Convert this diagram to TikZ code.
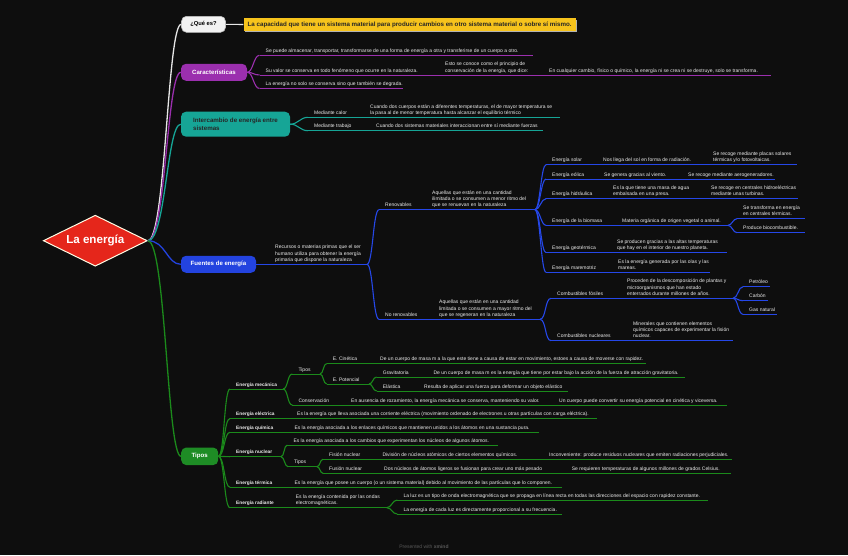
\documentclass[tikz,border=0pt]{standalone}
\usepackage{fontspec}
\setmainfont{Liberation Sans}
\usetikzlibrary{shapes.geometric,shadows}
\definecolor{bgc}{HTML}{0E0E0E}
\definecolor{txt}{HTML}{EDEDED}
\definecolor{purp}{HTML}{9B2FAE}
\definecolor{tealc}{HTML}{16A596}
\definecolor{bluec}{HTML}{2343DF}
\definecolor{bluel}{HTML}{2547E8}
\definecolor{greenc}{HTML}{1E8C25}
\definecolor{greenl}{HTML}{1B8A1B}
\definecolor{yel}{HTML}{F6C31C}
\definecolor{redc}{HTML}{E5261B}
\definecolor{whl}{HTML}{E6E6E6}
\tikzset{
  tt/.style={anchor=south west, inner sep=0pt, text depth=0pt, align=left, text=txt, font=\fontsize{5}{6.3}\selectfont},
  bt/.style={font=\bfseries\fontsize{4.8}{6}\selectfont},
  ul/.style={draw=white, line width=1pt},
  cl/.style={draw=white, line width=1.1pt},
  mainbox/.style={rounded corners=5pt, inner sep=0pt, font=\bfseries\fontsize{6.1}{7}\selectfont, text=white},
}
\newcommand\topicx[6][]{%
  \coordinate (#2-s) at ({#3-6},#4);
  \coordinate (#2-e) at (#5,#4);
  \draw[ul] (#2-s) -- (#2-e);
  \node[tt,#1] (#2) at (#3,{#4-2.8}) {#6};}
\newcommand\cnx[3][5]{\draw[cl] (#2) .. controls +(#1,0) and +(-#1,0) .. (#3);}
\begin{document}
\begin{tikzpicture}[x=1pt,y=-1pt]
\useasboundingbox (0,0) rectangle (848,555);
\fill[bgc] (0,0) rectangle (848,555);

% root
\node[diamond, aspect=2, fill=redc, draw=white!90!yellow, line width=1pt, minimum width=104pt, minimum height=51pt, inner sep=0pt, text=white, font=\bfseries\fontsize{11.6}{12}\selectfont] (root) at (95.3,240.7) {La energía};

% main boxes
\node[mainbox, fill=white!95!black, draw=white!75!black, line width=0.6pt, text=black, minimum width=44pt, minimum height=16pt, font=\bfseries\fontsize{5.8}{6.5}\selectfont] (q) at (203.5,24.3) {¿Qué es?};
\node[fill=yel, inner sep=0pt, minimum width=332pt, minimum height=12.5pt, text=black!85, font=\bfseries\fontsize{6.2}{7}\selectfont, drop shadow={shadow xshift=1.3pt, shadow yshift=-1.3pt, fill=white!70!black, opacity=1}] (qa) at (409.6,24.5) {La capacidad que tiene un sistema material para producir cambios en otro sistema material o sobre sí mismo.};
\node[mainbox, fill=purp, minimum width=66pt, minimum height=17pt] (car) at (214,72.3) {Características};
\node[mainbox, fill=tealc, minimum width=109pt, minimum height=25pt, text=black!85, align=left, font=\bfseries\fontsize{6.2}{8}\selectfont] (inter) at (235.5,124.2) {Intercambio de energía entre\\sistemas};
\node[mainbox, fill=bluec, minimum width=75pt, minimum height=17pt] (fue) at (218.5,264.3) {Fuentes de energía};
\node[mainbox, fill=greenc, minimum width=37pt, minimum height=17.5pt] (tip) at (199.7,456.3) {Tipos};

% root connectors
\draw[cl, draw=whl, line width=1.3pt] (root.east) .. controls +(18,0) and +(-14,0) .. (q.west);
\draw[cl, draw=purp, line width=1.3pt] (root.east) .. controls +(18,0) and +(-14,0) .. (car.west);
\draw[cl, draw=tealc, line width=1.3pt] (root.east) .. controls +(18,0) and +(-14,0) .. (inter.west);
\draw[cl, draw=bluec, line width=1.3pt] (root.east) .. controls +(18,0) and +(-14,0) .. (fue.west);
\draw[cl, draw=greenl, line width=1.3pt] (root.east) .. controls +(18,0) and +(-14,0) .. (tip.west);
\draw[cl, draw=whl] (q.east) -- (qa.west);

% Caracteristicas
\begin{scope}[ul/.style={draw=purp, line width=1pt}, cl/.style={draw=purp, line width=1.1pt}]
\topicx{c1}{265.5}{55.3}{533}{Se puede almacenar, transportar, transformarse de una forma de energía a otra y transferirse de un cuerpo a otro.}
\topicx{c2}{265.5}{75}{439}{Su valor se conserva en todo fenómeno que ocurre en la naturaleza.}
\topicx{c2a}{445}{75}{543}{Esto se conoce como el principio de\\conservación de la energía, que dice:}
\topicx{c2b}{549}{75}{770.7}{En cualquier cambio, físico o químico, la energía ni se crea ni se destruye, solo se transforma.}
\topicx{c3}{265.5}{88.5}{403}{La energía no solo se conserva sino que también se degrada.}
\cnx[6]{car.east}{c1-s}
\cnx[6]{car.east}{c2-s}
\cnx[6]{car.east}{c3-s}
\end{scope}

% Intercambio
\begin{scope}[ul/.style={draw=tealc, line width=1pt}, cl/.style={draw=tealc, line width=1.1pt}]
\topicx{m1}{314}{117.3}{364}{Mediante calor}
\topicx{m1a}{370}{117.3}{560}{Cuando dos cuerpos están a diferentes temperaturas, el de mayor temperatura se\\la pasa al de menor temperatura hasta alcanzar el equilibrio térmico}
\topicx{m2}{314}{130.7}{370}{Mediante trabajo}
\topicx{m2a}{376}{130.7}{542.7}{Cuando dos sistemas materiales interaccionan entre sí mediante fuerzas}
\cnx[8]{inter.east}{m1-s}
\cnx[8]{inter.east}{m2-s}
\end{scope}

% Fuentes
\begin{scope}[ul/.style={draw=bluel, line width=1pt}, cl/.style={draw=bluel, line width=1.1pt}]
\topicx{f0}{275}{264.3}{367}{Recursos o materias primas que el ser\\humano utiliza para obtener la energía\\primaria que dispone la naturaleza}
\draw[cl] (fue.east) -- (f0-s);
\topicx{ren}{385}{209.7}{426}{Renovables}
\topicx{rena}{432}{209.7}{535}{Aquellas que están en una cantidad\\ilimitada o se consumen a menor ritmo del\\que se renuevan en la naturaleza}
\topicx{nr}{385}{319.3}{433}{No renovables}
\topicx{nra}{439}{319.3}{540}{Aquellas que están en una cantidad\\limitada o se consumen a mayor ritmo del\\que se regeneran en la naturaleza}
\cnx[6]{f0-e}{ren-s}
\cnx[6]{f0-e}{nr-s}
% renovables
\topicx{r1}{552}{164.7}{597}{Energía solar}
\topicx{r1a}{603}{164.7}{707}{Nos llega del sol en forma de radiación.}
\topicx{r1b}{713}{164.7}{797}{Se recoge mediante placas solares\\térmicas y/o fotovoltaicas.}
\topicx{r2}{552}{179}{598}{Energía eólica}
\topicx{r2a}{604}{179}{682}{Se genera gracias al viento.}
\topicx{r2b}{688}{179}{775}{Se recoge mediante aerogeneradores.}
\topicx{r3}{552}{198.7}{607}{Energía hidráulica}
\topicx{r3a}{613}{198.7}{705}{Es la que tiene una masa de agua\\embalsada en una presa.}
\topicx{r3b}{711}{198.7}{798}{Se recoge en centrales hidroeléctricas\\mediante unas turbinas.}
\topicx{r4}{552}{225.3}{616}{Energía de la biomasa}
\topicx{r4a}{622}{225.3}{728}{Materia orgánica de origen vegetal o animal.}
\topicx{r4b}{743}{218.7}{805}{Se transforma en energía\\en centrales térmicas.}
\topicx{r4c}{743}{232.7}{805}{Produce biocombustible.}
\topicx{r5}{552}{252.7}{611}{Energía geotérmica}
\topicx{r5a}{617}{252.7}{727}{Se producen gracias a las altas temperaturas\\que hay en el interior de nuestro planeta.}
\topicx{r6}{552}{272.3}{612}{Energía maremotriz}
\topicx{r6a}{618}{272.3}{710}{Es la energía generada por las olas y las\\mareas.}
\cnx[5]{rena-e}{r1-s}
\cnx[5]{rena-e}{r2-s}
\cnx[5]{rena-e}{r3-s}
\cnx[5]{rena-e}{r4-s}
\cnx[5]{rena-e}{r5-s}
\cnx[5]{rena-e}{r6-s}
\cnx[4]{r4a-e}{r4b-s}
\cnx[4]{r4a-e}{r4c-s}
% no renovables
\topicx{cf}{557}{298.3}{621}{Combustibles fósiles}
\topicx{cfa}{627}{298.3}{733}{Proceden de la descomposición de plantas y\\microorganismos que han estado\\enterrados durante millones de años.}
\topicx{p1}{749}{286.7}{770}{Petróleo}
\topicx{p2}{749}{300.7}{768}{Carbón}
\topicx{p3}{749}{314.3}{777}{Gas natural}
\topicx{cn2}{557}{340.7}{627}{Combustibles nucleares}
\topicx{cna}{633}{340.7}{733}{Minerales que contienen elementos\\químicos capaces de experimentar la fisión\\nuclear.}
\cnx[6]{nra-e}{cf-s}
\cnx[6]{nra-e}{cn2-s}
\cnx[5]{cfa-e}{p1-s}
\cnx[5]{cfa-e}{p2-s}
\cnx[5]{cfa-e}{p3-s}
\end{scope}

% Tipos
\begin{scope}[ul/.style={draw=greenl, line width=1pt}, cl/.style={draw=greenl, line width=1.1pt}]
\topicx[bt]{em}{236}{389}{283}{Energía mecánica}
\topicx{emt}{298.3}{374}{320}{Tipos}
\topicx{ec}{332.7}{363.5}{374}{E. Cinética}
\topicx{eca}{380}{363.5}{645.7}{De un cuerpo de masa m a la que este tiene a causa de estar en movimiento, estoes a causa de moverse con rapidez.}
\topicx{ep}{332.7}{384}{369}{E. Potencial}
\topicx{epg}{382.7}{377}{427}{Gravitatoria}
\topicx{epga}{433.3}{377}{685}{De un cuerpo de masa m es la energía que tiene por estar bajo la acción de la fuerza de atracción gravitatoria.}
\topicx{epe}{382.7}{391}{418}{Elástica}
\topicx{epea}{424}{391}{568}{Resulta de aplicar una fuerza para deformar un objeto elástico}
\topicx{emc}{298.3}{405}{345}{Conservación}
\topicx{emca}{351}{405}{553}{En ausencia de rozamiento, la energía mecánica se conserva, manteniendo su valor.}
\topicx{emcb}{559}{405}{726.7}{Un cuerpo puede convertir su energía potencial en cinética y viceversa.}
\topicx[bt]{eel}{236}{418.5}{291}{Energía eléctrica}
\topicx{eela}{297}{418.5}{597.3}{Es la energía que lleva asociada una corriente eléctrica (movimiento ordenado de electrones u otras partículas con carga eléctrica).}
\topicx[bt]{eq}{236}{432.3}{288.3}{Energía química}
\topicx{eqa}{294.3}{432.3}{539.3}{Es la energía asociada a los enlaces químicos que mantienen unidos a los átomos en una sustancia pura.}
\topicx[bt]{en}{236}{456.7}{281}{Energía nuclear}
\topicx{ena}{293.3}{445}{498.3}{Es la energía asociada a los cambios que experimentan los núcleos de algunos átomos.}
\topicx{ent}{294}{466.7}{317}{Tipos}
\topicx{enf}{329}{459.3}{376.3}{Fisión nuclear}
\topicx{enfa}{382.3}{459.3}{543}{División de núcleos atómicos de ciertos elementos químicos.}
\topicx{enfb}{549}{459.3}{732.3}{Inconveniente: produce residuos nucleares que emiten radiaciones perjudiciales.}
\topicx{enu}{329}{473.3}{378}{Fusión nuclear}
\topicx{enua}{384}{473.3}{565.7}{Dos núcleos de átomos ligeros se fusionan para crear uno más pesado}
\topicx{enub}{571.7}{473.3}{730.7}{Se requieren temperaturas de algunos millones de grados Celsius.}
\topicx[bt]{et}{236}{487.3}{288.3}{Energía térmica}
\topicx{eta}{294.3}{487.3}{561.7}{Es la energía que posee un cuerpo (o un sistema material) debido al movimiento de las partículas que lo componen.}
\topicx[bt]{er}{236}{507.7}{289.7}{Energía radiante}
\topicx{era}{295.7}{507.7}{386.7}{Es la energía contenida por las ondas\\electromagnéticas.}
\topicx{er1}{403.3}{500}{707.7}{La luz es un tipo de onda electromagnética que se propaga en línea recta en todas las direcciones del espacio con rapidez constante.}
\topicx{er2}{403.3}{514}{561.7}{La energía de cada luz es directamente proporcional a su frecuencia.}
\cnx[6]{tip.east}{em-s}
\cnx[6]{tip.east}{eel-s}
\cnx[6]{tip.east}{eq-s}
\cnx[6]{tip.east}{en-s}
\cnx[6]{tip.east}{et-s}
\cnx[6]{tip.east}{er-s}
\cnx[5]{em-e}{emt-s}
\cnx[5]{em-e}{emc-s}
\cnx[3.5]{emt-e}{ec-s}
\cnx[3.5]{emt-e}{ep-s}
\cnx[4]{ep-e}{epg-s}
\cnx[4]{ep-e}{epe-s}
\cnx[3.5]{en-e}{ena-s}
\cnx[3.5]{en-e}{ent-s}
\cnx[3]{ent-e}{enf-s}
\cnx[3]{ent-e}{enu-s}
\cnx[5]{era-e}{er1-s}
\cnx[5]{era-e}{er2-s}
\end{scope}

\node[text=white!35!black, font=\fontsize{5}{6}\selectfont, inner sep=0pt] (ft) at (424,546.5) {Presented with \textbf{xmind}};
\end{tikzpicture}
\end{document}
